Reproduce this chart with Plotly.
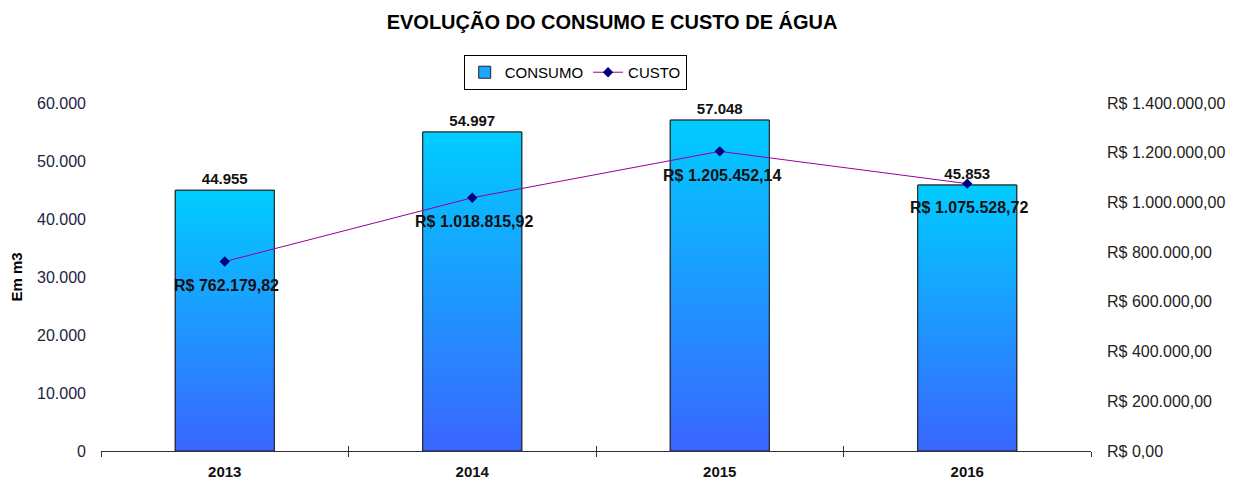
import plotly.graph_objects as go

anos = ["2013", "2014", "2015", "2016"]
consumo = [44955, 54997, 57048, 45853]
custo = [762179.82, 1018815.92, 1205452.14, 1075528.72]

FONT = "Liberation Sans, Arial, sans-serif"
BAR_W = 0.4
idx = list(range(len(anos)))

fig = go.Figure()

# Solid bar (used for legend + value labels)
fig.add_trace(go.Bar(
    x=idx, y=consumo, width=BAR_W, name="CONSUMO",
    marker=dict(color="#1AA8FF", line=dict(color="#222222", width=1)),
    text=consumo, texttemplate="<b>%{y:,.0f}</b>", textposition="outside",
    textfont=dict(family=FONT, size=15, color="#111111"),
    cliponaxis=False, yaxis="y",
))

# Gradient overlays for each bar
for i, v in zip(idx, consumo):
    fig.add_trace(go.Scatter(
        x=[i - BAR_W / 2, i + BAR_W / 2, i + BAR_W / 2, i - BAR_W / 2, i - BAR_W / 2],
        y=[0, 0, v, v, 0], mode="lines", fill="toself",
        fillgradient=dict(type="vertical", colorscale=[[0, "#3A66FF"], [1, "#00CCFF"]]),
        line=dict(color="#222222", width=1), showlegend=False, hoverinfo="skip",
        yaxis="y",
    ))

fig.add_trace(go.Scatter(
    x=idx, y=custo, name="CUSTO", mode="lines+markers",
    line=dict(color="#990099", width=1),
    marker=dict(symbol="diamond", size=8, color="#000080"),
    yaxis="y2", cliponaxis=False,
))

# overlay axis for inward tick marks at category boundaries
fig.add_trace(go.Scatter(x=[-0.5, 3.5], y=[None, None], xaxis="x2", yaxis="y",
                         showlegend=False, hoverinfo="skip"))

annotations = []
for i, c in zip(idx, custo):
    s = f"{c:,.2f}".replace(",", "X").replace(".", ",").replace("X", ".")
    annotations.append(dict(x=i, y=c, xref="x", yref="y2", text=f"<b>R$ {s}</b>",
                            showarrow=False, yshift=-24, xshift=2,
                            font=dict(family=FONT, size=16, color="#111111")))

# page body has an 8px margin, so the figure is sized/offset to compensate
fig.update_layout(
    width=1229, height=472,
    separators=",.",
    paper_bgcolor="white", plot_bgcolor="white",
    font=dict(family=FONT, size=13, color="#222222"),
    margin=dict(l=93, r=146, t=95, b=29, autoexpand=False),
    title=dict(text="<b>EVOLUÇÃO DO CONSUMO E CUSTO DE ÁGUA</b>", x=0.4915, xref="container",
               xanchor="center", y=0.970, yanchor="middle",
               font=dict(family=FONT, size=20, color="#000000")),
    showlegend=True,
    legend=dict(orientation="h", x=0.479, xanchor="center", y=1.138, yanchor="top",
                bordercolor="#000000", borderwidth=1, bgcolor="white",
                font=dict(family=FONT, size=15, color="#000000"),
                traceorder="normal", tracegroupgap=0, itemwidth=30),
    annotations=annotations,
    xaxis=dict(range=[-0.5, 3.5], tickvals=idx, ticktext=[f"<b>{a}</b>" for a in anos],
               showgrid=False, zeroline=False, showline=True, linecolor="#333333", linewidth=1,
               ticks="", ticklabelstandoff=7, tickfont=dict(family=FONT, size=15, color="#111111"),
               minor=dict(tickvals=[-0.5, 0.5, 1.5, 2.5, 3.5], ticks="outside", ticklen=5,
                          tickcolor="#333333", tickwidth=1, showgrid=False)),
    xaxis2=dict(range=[-0.5, 3.5], overlaying="x", anchor="y", side="bottom",
                tickvals=[-0.5, 0.5, 1.5, 2.5, 3.5], ticks="inside", ticklen=5,
                tickcolor="#333333", showticklabels=False, showgrid=False, zeroline=False,
                showline=False),
    yaxis=dict(range=[0, 60000], dtick=10000, tickformat=",.0f", showgrid=False,
               zeroline=False, showline=False, ticks="", ticklabelstandoff=14,
               tickfont=dict(family=FONT, size=16, color="#222244"),
               title=dict(text="<b>Em m3</b>", standoff=16, font=dict(family=FONT, size=15, color="#000000"))),
    yaxis2=dict(range=[0, 1400000], dtick=200000, tickformat=",.2f", tickprefix="R$ ",
                overlaying="y", side="right", showgrid=False, zeroline=False, showline=False,
                ticks="", ticklabelstandoff=15,
                tickfont=dict(family=FONT, size=16, color="#222222")),
    bargap=0.6,
)

fig.write_html("out.html")
